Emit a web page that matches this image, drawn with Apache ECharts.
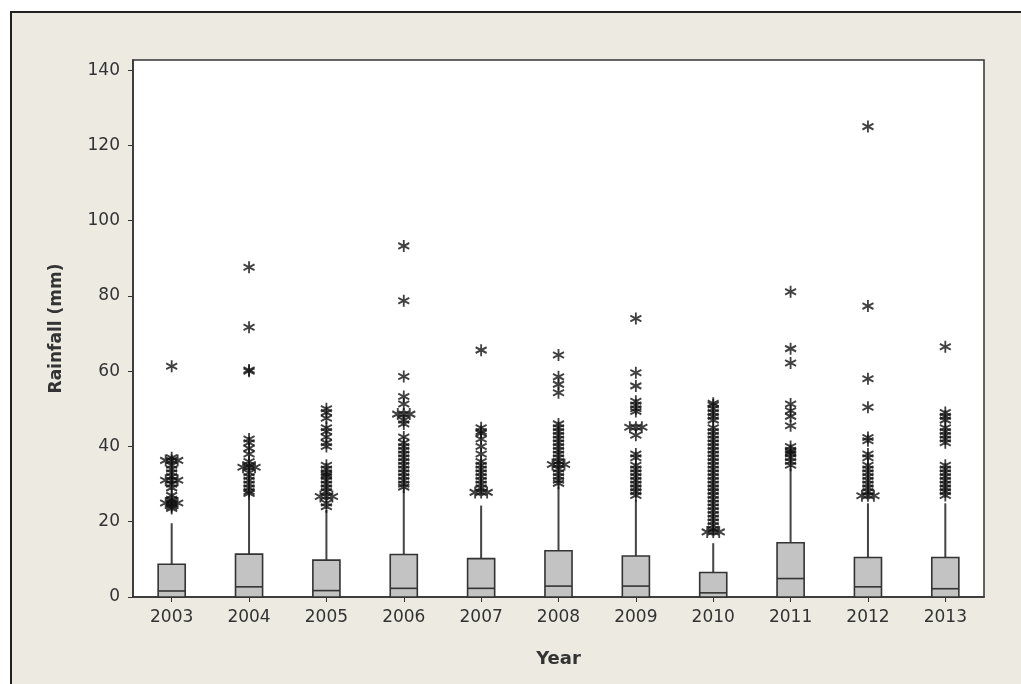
<!DOCTYPE html>
<html>
<head>
<meta charset="utf-8">
<script src="https://cdn.jsdelivr.net/npm/echarts@6/dist/echarts.min.js"></script>
<style>
html,body{margin:0;padding:0;background:#fff;}
#chart{width:1021px;height:684px;}
</style>
</head>
<body>
<div id="chart"></div>
<script>
// ---- data ----
const years = ['2003','2004','2005','2006','2007','2008','2009','2010','2011','2012','2013'];
const yTicks = [0,20,40,60,80,100,120,140];
// [Q1, median, Q3, upper whisker]
const q1 =      [0, 0, 0, 0, 0, 0, 0, 0, 0, 0, 0];
const medians = [1.6, 2.7, 1.7, 2.3, 2.3, 2.9, 2.9, 1.1, 4.9, 2.7, 2.2];
const q3 =      [8.7, 11.4, 9.8, 11.3, 10.2, 12.3, 10.9, 6.5, 14.4, 10.5, 10.5];
const whiskerHigh = [19.6, 26.2, 23.1, 28.4, 24.3, 29.3, 25.8, 14.3, 34.2, 24.9, 24.9];

const out2003 = [61.3, 37, 36.3, 35, 34, 33, 32, 31, 30, 29, 27, 26, 25.5, 25, 24.5, 24, 23.5];
const out2004 = [87.6, 71.7, 60.3, 60, 42, 41, 39.5, 38, 36, 35, 34.5, 33, 32, 31, 30, 29, 28, 27.5];
const out2005 = [50, 49, 47.5, 45, 44, 42.5, 41, 40, 35, 34, 33, 32.5, 32, 31, 30, 29, 28, 26.7, 25, 24];
const out2006 = [93.3, 78.7, 58.6, 53.3, 51.3, 48.6, 47, 46, 42.5, 41, 40, 39, 38, 37, 36, 35, 34, 33, 32, 31, 30, 29.2];
const out2007 = [65.6, 45, 44, 43.5, 42, 40, 38, 36, 35, 34, 33, 32, 31, 30, 29, 27.8];
const out2008 = [64.3, 58.5, 56.5, 54.3, 46, 45, 44, 43, 42, 41, 40, 39, 38, 37, 36, 35.2, 34, 33, 32, 31, 30.2];
const out2009 = [74, 59.6, 56.1, 52, 51, 50, 49.3, 45.1, 43, 38, 37, 35, 34, 33, 32, 31, 30, 29, 28, 27];
const out2010 = [51.5, 51, 50, 49, 48, 47, 45, 44, 43, 42, 41, 40, 39, 38, 37, 36, 35, 34, 33, 32, 31, 30, 29, 28, 27, 26, 25, 24, 23, 22, 21, 20, 19, 18, 17.3];
const out2011 = [81.1, 66, 62.2, 51.3, 49.5, 48, 45.5, 40, 39, 38.5, 38, 37, 36, 35];
const out2012 = [125, 77.3, 58, 50.4, 42.4, 41.5, 38, 37, 35, 34, 33, 32, 31, 30, 29, 28, 26.9];
const out2013 = [66.5, 49, 48, 47, 45, 44, 43, 42, 41, 35, 34, 33, 32, 31, 30, 29, 28, 27];
const outliers = [out2003, out2004, out2005, out2006, out2007, out2008, out2009, out2010, out2011, out2012, out2013];
// repeated values shown side by side: [yearIndex, value]
const tied = [[0,36.3],[0,31],[0,25],[1,34.5],[2,26.7],[3,48.6],[4,27.8],[5,35.2],[6,45.1],[7,17.3],[9,26.9]];

// ---- build ----
const boxData = years.map((y,i)=>[i, q1[i], medians[i], q3[i], whiskerHigh[i]]);
const outData = [];
outliers.forEach((arr,i)=>arr.forEach(v=>outData.push([i, v])));

const star = 'path://M5,0L5,10M0.8,2.6L9.2,7.4M0.8,7.4L9.2,2.6';
const starStyle = {color:'#111', borderColor:'#111', borderWidth:1.9};
const starSize = [11,12];

const chart = echarts.init(document.getElementById('chart'), null, {renderer:'canvas'});
chart.setOption({
  backgroundColor:'#ffffff',
  animation:false,
  graphic:[{
    type:'rect', z:-10, silent:true,
    shape:{x:11, y:12, width:1200, height:900},
    style:{fill:'#EDEAE2', stroke:'#222', lineWidth:2}
  }],
  grid:{left:133, top:60, right:37, bottom:87, show:true, backgroundColor:'#fff', borderColor:'#333', borderWidth:1.5},
  xAxis:{
    type:'category', data:years,
    name:'Year', nameLocation:'middle', nameGap:53,
    nameTextStyle:{fontFamily:'DejaVu Sans', fontWeight:'bold', fontSize:18, color:'#333'},
    axisLine:{show:true, lineStyle:{color:'#333', width:1.5}},
    axisTick:{show:true, alignWithLabel:true, length:5, lineStyle:{color:'#333'}},
    axisLabel:{fontFamily:'DejaVu Sans', fontSize:17, color:'#333', margin:12},
    splitLine:{show:false}
  },
  yAxis:{
    type:'value', min:0, max:142.7, interval:20,
    name:'Rainfall (mm)', nameLocation:'middle', nameGap:68, nameRotate:90,
    nameTextStyle:{fontFamily:'DejaVu Sans', fontWeight:'bold', fontSize:17, color:'#333'},
    axisLine:{show:true, lineStyle:{color:'#333', width:1.5}},
    axisTick:{show:true, length:5, lineStyle:{color:'#333'}},
    axisLabel:{fontFamily:'DejaVu Sans', fontSize:17, color:'#333', margin:13, showMaxLabel:false,
      formatter:v=> yTicks.indexOf(Math.round(v*1000)/1000) >= 0 ? String(v) : ''},
    splitLine:{show:false}
  },
  series:[
    {
      type:'custom', z:2,
      data:boxData,
      encode:{x:0, y:[1,2,3,4]},
      renderItem:function(params, api){
        const idx = api.value(0);
        const pQ1 = api.coord([idx, api.value(1)]);
        const pMed = api.coord([idx, api.value(2)]);
        const pQ3 = api.coord([idx, api.value(3)]);
        const pHi = api.coord([idx, api.value(4)]);
        const bw = api.size([1,0])[0] * 0.35;
        const cx = pQ1[0];
        return {type:'group', children:[
          {type:'line', shape:{x1:cx, y1:pQ3[1], x2:cx, y2:pHi[1]}, style:{stroke:'#444', lineWidth:2}},
          {type:'rect', shape:{x:cx-bw/2, y:pQ3[1], width:bw, height:pQ1[1]-pQ3[1]}, style:{fill:'#C3C3C3', stroke:'#333', lineWidth:1.6}},
          {type:'line', shape:{x1:cx-bw/2, y1:pMed[1], x2:cx+bw/2, y2:pMed[1]}, style:{stroke:'#333', lineWidth:1.6}}
        ]};
      }
    },
    {type:'scatter', z:3, data:outData, symbol:star, symbolSize:starSize, itemStyle:starStyle},
    {type:'scatter', z:3, data:tied, symbol:star, symbolSize:starSize, symbolOffset:[-6,0], itemStyle:starStyle},
    {type:'scatter', z:3, data:tied, symbol:star, symbolSize:starSize, symbolOffset:[6,0], itemStyle:starStyle}
  ]
});
</script>
</body>
</html>
